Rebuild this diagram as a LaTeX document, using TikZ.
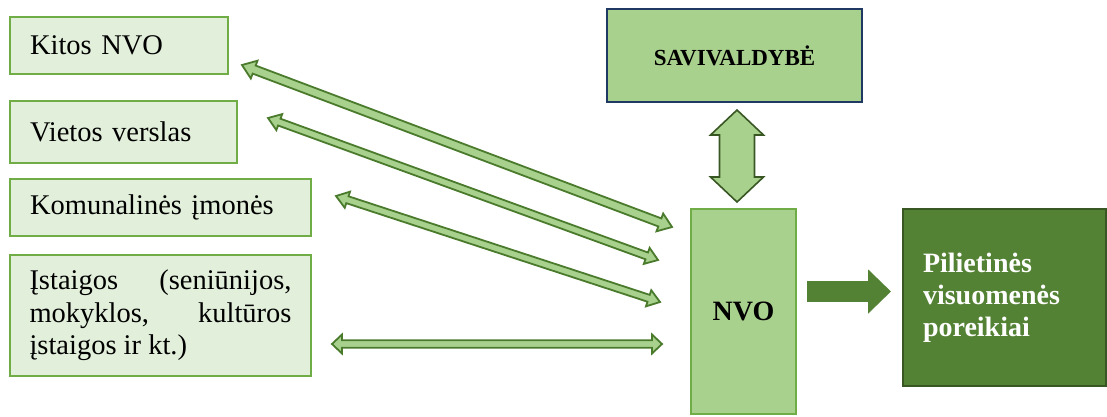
\documentclass[tikz,border=0pt]{standalone}
\usepackage{fontspec}
\setmainfont{Liberation Serif}
\newfontfamily\tnr{Liberation Serif}
\usetikzlibrary{calc,arrows.meta}
\definecolor{lfill}{HTML}{E2EFDA}
\definecolor{lborder}{HTML}{70AD47}
\definecolor{mfill}{HTML}{A9D18E}
\definecolor{dgreen}{HTML}{548235}
\definecolor{ddgreen}{HTML}{385723}
\definecolor{navyb}{HTML}{1F3864}
\definecolor{arrline}{HTML}{4A7A2C}
% #1 style, #2 A, #3 B, #4 body half, #5 head half, #6 head length
\newcommand{\dblarrow}[6]{%
\filldraw[#1] ($(#2)!#6!(#3)!#4!90:(#3)$) -- ($(#2)!#6!(#3)!#5!90:(#3)$) -- (#2)
 -- ($(#2)!#6!(#3)!#5!-90:(#3)$) -- ($(#2)!#6!(#3)!#4!-90:(#3)$)
 -- ($(#3)!#6!(#2)!#4!90:(#2)$) -- ($(#3)!#6!(#2)!#5!90:(#2)$) -- (#3)
 -- ($(#3)!#6!(#2)!#5!-90:(#2)$) -- ($(#3)!#6!(#2)!#4!-90:(#2)$) -- cycle;}
\begin{document}
\begin{tikzpicture}[x=1pt,y=1pt,
  lbox/.style={draw=lborder, fill=lfill, line width=2pt, inner xsep=20pt, inner ysep=0pt,
    align=left, font=\tnr\fontsize{28.5}{32.5}\selectfont},
  mbox/.style={draw=lborder, fill=mfill, line width=2pt, inner sep=0pt, align=center},
  thinarr/.style={draw=arrline, fill=mfill, line width=1.8pt, line join=miter},
  vertarr/.style={draw=ddgreen, fill=mfill, line width=1.6pt, line join=miter},
  bigarr/.style={draw=none, fill=dgreen}]
\useasboundingbox (0,0) rectangle (1107,-416);
\fill[white] (0,0) rectangle (1107,-416);

\node[lbox, text width=178pt, minimum height=57pt] (kitos) at (119,-45.5) {Kitos NVO};
\node[lbox, text width=187pt, minimum height=62pt] (vietos) at (123.5,-132) {Vietos verslas};
\node[lbox, text width=261pt, minimum height=57pt] (komun) at (160.5,-207.5) {Komunalinės įmonės};
\node[lbox, text width=262pt, inner xsep=19.5pt, minimum height=121pt, align=justify] (istaigos) at (160.5,-315.5)
  {Įstaigos (seniūnijos,\linebreak mokyklos, kultūros\linebreak įstaigos ir kt.)};

\node[mbox, draw=navyb, minimum width=255pt, minimum height=93pt,
  font=\tnr\bfseries\fontsize{23}{27}\selectfont] (sav) at (734.5,-55.5) {SAVIVALDYBĖ};
\node[mbox, minimum width=105pt, minimum height=205pt,
  font=\tnr\bfseries\fontsize{28}{32}\selectfont] (nvo) at (743.5,-311.5) {NVO};
\node[draw=ddgreen, fill=dgreen, line width=1.5pt, minimum width=203pt, minimum height=177pt,
  text width=163pt, inner xsep=20pt, inner ysep=0pt, align=left, text=white,
  font=\tnr\bfseries\fontsize{28}{32}\selectfont] (pil) at (1004.5,-297.5)
  {Pilietinės\\visuomenės\\poreikiai};

\coordinate (a1s) at (242,-65);   \coordinate (a1e) at (672,-227);
\coordinate (a2s) at (268,-118);  \coordinate (a2e) at (658,-260);
\coordinate (a3s) at (336,-196);  \coordinate (a3e) at (660,-302);
\coordinate (a4s) at (332,-344);  \coordinate (a4e) at (662,-344);
\coordinate (vs) at (737,-110);   \coordinate (ve) at (737,-202);
\coordinate (bs) at (807,-291.5); \coordinate (be) at (891,-291.5);

\dblarrow{thinarr}{a1s}{a1e}{4.3pt}{9.5pt}{13pt}
\dblarrow{thinarr}{a2s}{a2e}{3.6pt}{8.5pt}{12pt}
\dblarrow{thinarr}{a3s}{a3e}{3.6pt}{8.5pt}{12pt}
\dblarrow{thinarr}{a4s}{a4e}{3.8pt}{9.5pt}{10pt}
\dblarrow{vertarr}{vs}{ve}{17.5pt}{26.5pt}{25pt}

\draw[dgreen, line width=21pt, -{Triangle[length=23pt,width=43pt]}] (bs) -- (be);
\end{tikzpicture}
\end{document}
